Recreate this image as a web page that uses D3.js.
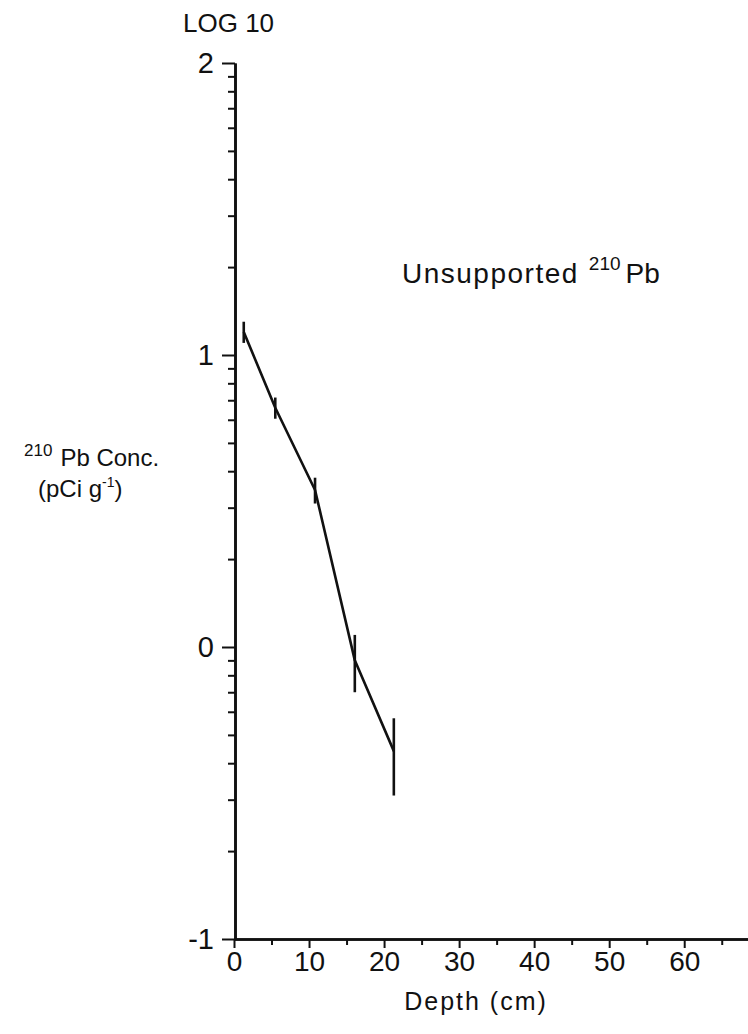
<!DOCTYPE html>
<html>
<head>
<meta charset="utf-8">
<script src="https://cdn.jsdelivr.net/npm/d3@7"></script>
<style>
  html, body { margin: 0; padding: 0; background: #fff; }
  svg { display: block; }
  text { font-family: "Liberation Sans", Arial, sans-serif; fill: #111; }
</style>
</head>
<body>
<svg id="chart" width="748" height="1034"></svg>
<script>
// Unsupported 210Pb activity down the core
const depthCm = [1.3, 5.5, 10.8, 16.1, 21.3];
const pbConc = [12.0, 6.6, 3.45, 0.90, 0.44];   // pCi g-1
const pbErr  = [1.0, 0.55, 0.35, 0.20, 0.13];   // +/- pCi g-1

const xMajorTicks = [0, 10, 20, 30, 40, 50, 60];
const xMinorTicks = [5, 15, 25, 35, 45, 55, 65];
const yDecades = [0.1, 1, 10, 100];
const yDecadeLabels = ["-1", "0", "1", "2"];

const svg = d3.select("#chart");
const ink = "#111";

const x = d3.scaleLinear().domain([0, 68.5]).range([234, 748]);
const y = d3.scaleLog().domain([0.1, 100]).range([939, 63]);

// minor log ticks 2..9 in each decade
const yMinor = [];
yDecades.slice(0, 3).forEach(d => { for (let k = 2; k <= 9; k++) yMinor.push(d * k); });

// ---- y axis (log10 of concentration) ----
const yAxisX = 235;
const gyMinor = svg.append("g").attr("transform", `translate(${yAxisX},0)`)
  .call(d3.axisLeft(y).tickValues(yMinor).tickSize(7).tickSizeOuter(0).tickFormat(""));
const gyMajor = svg.append("g").attr("transform", `translate(${yAxisX},0)`)
  .call(d3.axisLeft(y).tickValues(yDecades).tickSize(13).tickSizeOuter(0).tickPadding(8)
    .tickFormat((d, i) => yDecadeLabels[i]));
[gyMinor, gyMajor].forEach(g => {
  g.selectAll("line").attr("stroke", ink).attr("stroke-width", 2);
  g.select(".domain").attr("stroke", ink).attr("stroke-width", 2.6);
});
gyMajor.selectAll("text").attr("font-size", 29).attr("fill", ink);

// ---- x axis (depth) ----
const xAxisY = 939;
const gxMinor = svg.append("g").attr("transform", `translate(0,${xAxisY})`)
  .call(d3.axisBottom(x).tickValues(xMinorTicks).tickSize(6).tickSizeOuter(0).tickFormat(""));
const gxMajor = svg.append("g").attr("transform", `translate(0,${xAxisY})`)
  .call(d3.axisBottom(x).tickValues(xMajorTicks).tickSize(9).tickSizeOuter(0).tickPadding(3)
    .tickFormat(d3.format("d")));
[gxMinor, gxMajor].forEach(g => {
  g.selectAll("line").attr("stroke", ink).attr("stroke-width", 2);
  g.select(".domain").attr("stroke", ink).attr("stroke-width", 2.6);
});
gxMajor.selectAll("text").attr("font-size", 28).attr("fill", ink);

// ---- data: error bars and profile line ----
const pts = depthCm.map((d, i) => ({ depth: d, conc: pbConc[i], err: pbErr[i] }));

svg.append("g").selectAll("line").data(pts).join("line")
  .attr("x1", d => x(d.depth)).attr("x2", d => x(d.depth))
  .attr("y1", d => y(d.conc + d.err)).attr("y2", d => y(d.conc - d.err))
  .attr("stroke", ink).attr("stroke-width", 2.6);

svg.append("path").datum(pts)
  .attr("d", d3.line().x(d => x(d.depth)).y(d => y(d.conc)))
  .attr("fill", "none").attr("stroke", ink).attr("stroke-width", 2.6)
  .attr("stroke-linejoin", "round");

// ---- labels ----
svg.append("text").attr("x", 183).attr("y", 32).attr("font-size", 26).text("LOG 10");

const series = svg.append("text").attr("x", 402).attr("y", 283).attr("font-size", 28)
  .attr("letter-spacing", 1.5);
series.append("tspan").text("Unsupported");
series.append("tspan").attr("dx", 10).attr("dy", -13).attr("font-size", 19).attr("letter-spacing", 0).text("210");
series.append("tspan").attr("dx", 5).attr("dy", 13).attr("letter-spacing", 0).text("Pb");

const yt1 = svg.append("text").attr("x", 24).attr("y", 466).attr("font-size", 24);
yt1.append("tspan").attr("dy", -10).attr("font-size", 17).text("210");
yt1.append("tspan").attr("dx", 8).attr("dy", 10).text("Pb Conc.");

const yt2 = svg.append("text").attr("x", 38).attr("y", 497).attr("font-size", 24);
yt2.append("tspan").text("(pCi g");
yt2.append("tspan").attr("dy", -10).attr("font-size", 14).text("-1");
yt2.append("tspan").attr("dy", 10).text(")");

svg.append("text").attr("x", 476).attr("y", 1010).attr("text-anchor", "middle")
  .attr("font-size", 25).attr("letter-spacing", 2).text("Depth (cm)");
</script>
</body>
</html>
